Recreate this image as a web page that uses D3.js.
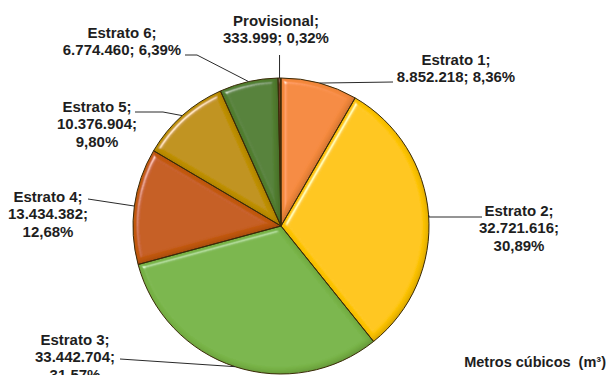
<!DOCTYPE html>
<html>
<head>
<meta charset="utf-8">
<script src="https://cdn.jsdelivr.net/npm/d3@7"></script>
<style>
  html, body { margin: 0; padding: 0; background: #fff; }
  svg { display: block; }
  text { font-family: "Liberation Sans", Arial, sans-serif; font-weight: bold; fill: #1e1e1e; }
</style>
</head>
<body>
<svg id="chart" width="609" height="375"></svg>
<script>
// ---- data ----
const categories = ["Estrato 1", "Estrato 2", "Estrato 3", "Estrato 4", "Estrato 5", "Estrato 6", "Provisional"];
const volumes = [8852218, 32721616, 33442704, 13434382, 10376904, 6774460, 333999];
const volumeLabels = ["8.852.218", "32.721.616", "33.442.704", "13.434.382", "10.376.904", "6.774.460", "333.999"];
const percentLabels = ["8,36%", "30,89%", "31,57%", "12,68%", "9,80%", "6,39%", "0,32%"];
const unitLabel = "Metros cúbicos  (m³)";

// ---- style / layout ----
const colors = ["#F5893C", "#FFC506", "#78B447", "#C45A14", "#BF9002", "#527F33", "#7a3a10"];
const W = 609, H = 375;
const cx = 281, cy = 226, R = 148;

// label layout: text centre x, first baseline, line breakup, leader elbow/end
const labelLayout = [
  { x: 456, y: 65, lines: l => [l.cat + ";", l.vol + "; " + l.pct], elbow: [393, 82], end: [393, 82] },
  { x: 519, y: 216, lines: l => [l.cat + ";", l.vol + ";", l.pct], elbow: [429, 217], end: [482, 217] },
  { x: 75, y: 345, lines: l => [l.cat + ";", l.vol + ";", l.pct], elbow: [120, 359], end: [120, 359] },
  { x: 48, y: 202, lines: l => [l.cat + ";", l.vol + ";", l.pct], elbow: [88, 199], end: [88, 199] },
  { x: 97, y: 112, lines: l => [l.cat + ";", l.vol + ";", l.pct], elbow: [163, 112], end: [135, 112] },
  { x: 122, y: 38, lines: l => [l.cat + ";", l.vol + "; " + l.pct], elbow: [197, 55], end: [185, 55] },
  { x: 276, y: 26, lines: l => [l.cat + ";", l.vol + "; " + l.pct], elbow: null, end: null }
];
const lineH = 17.3;

const svg = d3.select("#chart");

// bevel filter: highlight on edges facing the light, shade on the others
const defs = svg.append("defs");
const f = defs.append("filter").attr("id", "bevel").attr("x", "-10%").attr("y", "-10%").attr("width", "120%").attr("height", "120%");
f.append("feGaussianBlur").attr("in", "SourceAlpha").attr("stdDeviation", 2.5).attr("result", "blur");
const spec = f.append("feSpecularLighting").attr("in", "blur").attr("surfaceScale", 4)
  .attr("specularConstant", 0.9).attr("specularExponent", 45).attr("lighting-color", "#ffffff").attr("result", "spec");
spec.append("feDistantLight").attr("azimuth", 225).attr("elevation", 45);
f.append("feComposite").attr("in", "spec").attr("in2", "SourceAlpha").attr("operator", "in").attr("result", "specOut");
// shade: offset blur darkening opposite edges
f.append("feOffset").attr("in", "blur").attr("dx", -2).attr("dy", -2).attr("result", "offBlur");
f.append("feComposite").attr("in", "SourceAlpha").attr("in2", "offBlur").attr("operator", "out").attr("result", "shadeMask");
f.append("feFlood").attr("flood-color", "#000").attr("flood-opacity", 0.35).attr("result", "shadeCol");
f.append("feComposite").attr("in", "shadeCol").attr("in2", "shadeMask").attr("operator", "in").attr("result", "shade");
f.append("feComposite").attr("in", "SourceGraphic").attr("in2", "specOut").attr("operator", "arithmetic")
  .attr("k1", 0).attr("k2", 1).attr("k3", 0.6).attr("k4", 0).attr("result", "lit");
const m = f.append("feMerge");
m.append("feMergeNode").attr("in", "lit");
m.append("feMergeNode").attr("in", "shade");

const pie = d3.pie().sort(null).value(d => d);
const arcs = pie(volumes);
const arc = d3.arc().innerRadius(0).outerRadius(R);

const g = svg.append("g").attr("transform", `translate(${cx},${cy})`);
g.selectAll("path.slice")
  .data(arcs)
  .join("path")
  .attr("class", "slice")
  .attr("d", arc)
  .attr("fill", (d, i) => colors[i])
  .attr("filter", "url(#bevel)");
g.selectAll("path.edge")
  .data(arcs)
  .join("path")
  .attr("class", "edge")
  .attr("d", arc)
  .attr("fill", "none")
  .attr("stroke", "#3a2a08")
  .attr("stroke-width", 1)
  .attr("stroke-linejoin", "round");

// leader lines
const edgePoint = d => {
  const a = (d.startAngle + d.endAngle) / 2;
  return [cx + R * Math.sin(a), cy - R * Math.cos(a)];
};
const lineGen = d3.line();
arcs.forEach((d, i) => {
  const L = labelLayout[i];
  const p = edgePoint(d);
  const pts = L.elbow ? [p, L.elbow, L.end] : [p, [p[0], 55]];
  svg.append("path")
    .attr("d", lineGen(pts))
    .attr("fill", "none")
    .attr("stroke", "#2a2a2a")
    .attr("stroke-width", 1);
});

// labels
arcs.forEach((d, i) => {
  const L = labelLayout[i];
  const info = { cat: categories[i], vol: volumeLabels[i], pct: percentLabels[i] };
  const t = svg.append("text")
    .attr("x", L.x).attr("y", L.y)
    .attr("text-anchor", "middle")
    .attr("font-size", 15);
  L.lines(info).forEach((s, k) => {
    t.append("tspan").attr("x", L.x).attr("y", L.y + k * lineH).text(s);
  });
});

svg.append("text")
  .attr("x", 606).attr("y", 367)
  .attr("text-anchor", "end")
  .attr("font-size", 14.5)
  .style("white-space", "pre")
  .text(unitLabel);
</script>
</body>
</html>
